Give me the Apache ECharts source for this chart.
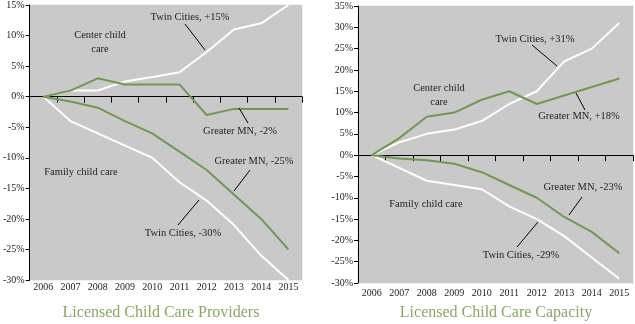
<!DOCTYPE html>
<html><head><meta charset="utf-8">
<script src="https://cdn.jsdelivr.net/npm/echarts@6/dist/echarts.min.js"></script>
<style>html,body{margin:0;padding:0;background:#fff}#c{width:635px;height:324px}</style>
</head><body><div id="c"></div>
<script>
const years = ['2006','2007','2008','2009','2010','2011','2012','2013','2014','2015'];
// Licensed Child Care Providers (% change since 2006)
const provCenterTC = [0, 1, 1, 2.5, 3.2, 4, 7.3, 11, 12, 15];
const provCenterGM = [0, 1, 3, 2, 2, 2, -3, -2, -2, -2];
const provFamilyTC = [0, -4, -6, -8, -10, -14, -17, -21, -26, -30];
const provFamilyGM = [0, -0.8, -1.8, -4, -6, -9, -12, -16, -20, -25];
// Licensed Child Care Capacity (% change since 2006)
const capCenterTC = [0, 3, 5, 6, 8, 12, 15, 22, 25, 31];
const capCenterGM = [0, 4, 9, 10, 13, 15, 12, 14, 16, 18];
const capFamilyTC = [0, -3, -6, -7, -8, -12, -15, -19, -24, -29];
const capFamilyGM = [0, -0.8, -1.2, -2, -4, -7, -10, -14.5, -18, -23];

const FONT = 'Liberation Serif';
const GREEN = '#6f9a4c';
const WHITE = '#ffffff';
const pct = v => v + '%';

function yAx(grid, min, max) {
  return {
    type: 'value', gridIndex: grid, min: min, max: max, interval: 5,
    splitLine: {show: false},
    axisLine: {show: true, lineStyle: {color: '#000', width: 1}},
    axisTick: {show: true, length: 4, lineStyle: {color: '#000'}},
    axisLabel: {formatter: pct, color: '#222', fontFamily: FONT, fontSize: 10, margin: 5}
  };
}
function xLab(grid, margin) {
  return {
    type: 'category', gridIndex: grid, data: years, position: 'bottom',
    axisLine: {show: false, onZero: false}, axisTick: {show: false},
    axisLabel: {color: '#222', fontFamily: FONT, fontSize: 10, margin: margin, interval: 0}
  };
}
function xZero(grid) {
  return {
    type: 'category', gridIndex: grid, data: years, position: 'bottom',
    axisLine: {show: true, onZero: true, lineStyle: {color: '#000', width: 1}},
    axisTick: {show: true, length: 6, interval: 0, lineStyle: {color: '#000'}},
    axisLabel: {show: false}
  };
}
function line(data, color, xi, yi) {
  return {type: 'line', data: data, xAxisIndex: xi, yAxisIndex: yi, symbol: 'none',
    lineStyle: {color: color, width: 2}, itemStyle: {color: color}, z: color === WHITE ? 2 : 3};
}
const txt = (t, x, y) => ({type: 'text', z: 100, style: {text: t, x: x, y: y, textAlign: 'center', textVerticalAlign: 'middle', fill: '#222', font: '10.5px "' + FONT + '"'}});
const ln = (x1, y1, x2, y2) => ({type: 'line', z: 100, shape: {x1: x1, y1: y1, x2: x2, y2: y2}, style: {stroke: '#000', lineWidth: 1}});
const ttl = (t, x, y) => ({type: 'text', z: 100, style: {text: t, x: x, y: y, textAlign: 'center', textVerticalAlign: 'middle', fill: '#88a862', font: '16px "' + FONT + '"'}});

const chart = echarts.init(document.getElementById('c'), null, {renderer: 'canvas'});
chart.setOption({
  animation: false,
  backgroundColor: '#fff',
  grid: [
    {left: 27, right: 333, top: 5, bottom: 44, show: true, backgroundColor: '#c9c9c9', borderColor: '#c2c4dc', borderWidth: 1, borderType: 'dotted'},
    {left: 358, right: 2, top: 6, bottom: 41, show: true, backgroundColor: '#c9c9c9', borderColor: '#c2c4dc', borderWidth: 1, borderType: 'dotted'}
  ],
  xAxis: [xLab(0, 2), xZero(0), xLab(1, 5), xZero(1)],
  yAxis: [yAx(0, -30, 15), yAx(1, -30, 35)],
  series: [
    line(provCenterTC, WHITE, 1, 0), line(provFamilyTC, WHITE, 1, 0),
    line(provCenterGM, GREEN, 1, 0), line(provFamilyGM, GREEN, 1, 0),
    line(capCenterTC, WHITE, 3, 1), line(capFamilyTC, WHITE, 3, 1),
    line(capCenterGM, GREEN, 3, 1), line(capFamilyGM, GREEN, 3, 1)
  ],
  graphic: [
    txt('Twin Cities, +15%', 190, 17), ln(185, 24, 205, 50),
    txt('Center child', 100, 35), txt('care', 100, 49),
    txt('Greater MN, -2%', 240, 131), ln(239, 108, 248, 123),
    txt('Greater MN, -25%', 254, 161), ln(250, 170, 234, 191),
    txt('Family child care', 81, 172),
    txt('Twin Cities, -30%', 183, 233), ln(178, 225, 199, 200),
    ttl('Licensed Child Care Providers', 161, 313),
    txt('Twin Cities, +31%', 535, 39), ln(532, 45, 557, 66),
    txt('Center child', 439, 88), txt('care', 439, 102),
    txt('Greater MN, +18%', 579, 116), ln(576, 93, 585, 110),
    txt('Greater MN, -23%', 583, 187), ln(582, 197, 569, 215),
    txt('Family child care', 426, 204),
    txt('Twin Cities, -29%', 521, 255), ln(517, 247, 538, 222),
    ttl('Licensed Child Care Capacity', 496, 313)
  ]
});
</script></body></html>
